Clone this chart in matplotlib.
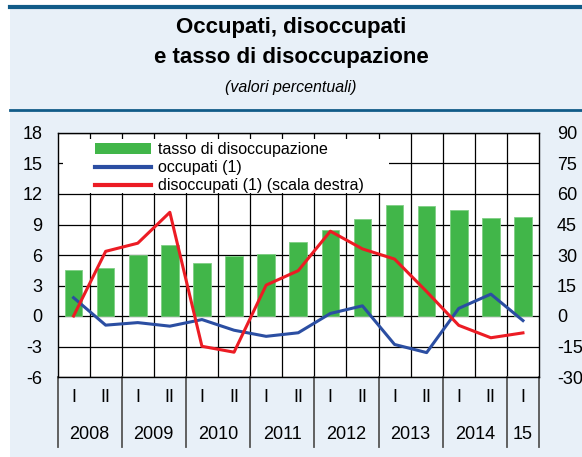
import numpy as np
import matplotlib.pyplot as plt
from matplotlib.patches import Rectangle, Patch
from matplotlib.lines import Line2D

plt.rcParams['font.family'] = ['Liberation Sans', 'DejaVu Sans']
plt.rcParams['axes.unicode_minus'] = False

# data (half-years 2008 I .. 2015 I)
halves = ['I', 'II'] * 7 + ['I']
years = ['2008', '2009', '2010', '2011', '2012', '2013', '2014', '15']
tasso = [4.5, 4.7, 6.0, 7.0, 5.25, 5.95, 6.1, 7.3, 8.5, 9.5, 10.95, 10.8, 10.4, 9.6, 9.7]
occupati = [1.8, -0.9, -0.65, -1.0, -0.35, -1.4, -2.0, -1.65, 0.25, 1.0, -2.8, -3.6, 0.75, 2.15, -0.45]
disoccupati = [0.0, 31.8, 35.8, 51.0, -14.9, -17.8, 15.2, 22.3, 41.7, 33.0, 28.0, 12.0, -4.6, -10.7, -8.3]

bg = '#e8f0f8'
dark = '#115b88'

fig = plt.figure(figsize=(5.82, 4.57), dpi=100)
W, H = 582, 457

def fx(px):
    return px / W

def fy(py):
    return 1 - py / H

# light blue panel and title lines
fig.patches.append(Rectangle((fx(10), 0), 1, fy(6), transform=fig.transFigure,
                             facecolor=bg, edgecolor='none', zorder=-10))
fig.add_artist(Line2D([fx(10), 1], [fy(7), fy(7)], color=dark, lw=3))
fig.add_artist(Line2D([fx(10), 1], [fy(110), fy(110)], color=dark, lw=2))

fig.text(0.5, fy(33), 'Occupati, disoccupati', ha='center', va='baseline',
         fontsize=16, fontweight='bold')
fig.text(0.5, fy(63), 'e tasso di disoccupazione', ha='center', va='baseline',
         fontsize=16, fontweight='bold')
fig.text(0.5, fy(92), '(valori percentuali)', ha='center', va='baseline',
         fontsize=11.5, style='italic')

ax = fig.add_axes([fx(57.5), fy(377), fx(481.5), (377 - 133) / H])
ax.set_facecolor('white')
x = np.arange(len(tasso))

ax.bar(x, tasso, width=0.55, color='#41b649', edgecolor='#7fcf84', lw=0.6, zorder=2)
ax.plot(x, occupati, color='#2b4ea2', lw=2.2, zorder=3)

ax.set_xlim(-0.5, len(tasso) - 0.5)
ax.set_ylim(-6, 18)
ax.set_yticks(np.arange(-6, 19, 3))
ax.set_xticks(np.arange(0.5, len(tasso) - 1, 1), minor=False)
ax.set_xticklabels([])
ax.grid(True, color='black', lw=0.9, zorder=0)
ax.set_axisbelow(True)
ax.tick_params(axis='both', length=0, labelsize=13)
ax.tick_params(axis='y', pad=11)
for s in ax.spines.values():
    s.set_color('black')
    s.set_linewidth(1)

# white box behind legend (covers grid)
ax.add_patch(Rectangle((0.011, 0.754), 0.677, 0.222, transform=ax.transAxes,
                       facecolor='white', edgecolor='none', zorder=1))

ax2 = ax.twinx()
ax2.plot(x, disoccupati, color='#ec1c24', lw=2.2, zorder=3)
ax2.set_ylim(-30, 90)
ax2.set_yticks(np.arange(-30, 91, 15))
ax2.tick_params(axis='y', length=0, labelsize=13, pad=13)
for s in ax2.spines.values():
    s.set_visible(False)

handles = [Patch(facecolor='#41b649', edgecolor='none'),
           Line2D([], [], color='#2b4ea2', lw=3),
           Line2D([], [], color='#ec1c24', lw=3)]
labels = ['tasso di disoccupazione', 'occupati (1)', 'disoccupati (1) (scala destra)']
leg = ax2.legend(handles, labels, loc='upper left', bbox_to_anchor=(0.078, 0.962),
                 frameon=False, fontsize=11.5, handlelength=3.5, handletextpad=0.45,
                 borderpad=0, labelspacing=0.19, borderaxespad=0)
leg.set_zorder(5)

# x axis category labels and separators
trans = ax.get_xaxis_transform()
for i, h in enumerate(halves):
    ax.text(i, -0.086, h, transform=trans, ha='center', va='center', fontsize=13)
bounds = [-0.5] + [1.5 + 2 * k for k in range(7)] + [len(tasso) - 0.5]
for b in bounds:
    ax.plot([b, b], [0, -0.287], transform=trans, color='#555555', lw=1.3, clip_on=False)
for k, yr in enumerate(years):
    ax.text((bounds[k] + bounds[k + 1]) / 2, -0.234, yr, transform=trans,
            ha='center', va='center', fontsize=13)

plt.savefig('out.png', dpi=100)
